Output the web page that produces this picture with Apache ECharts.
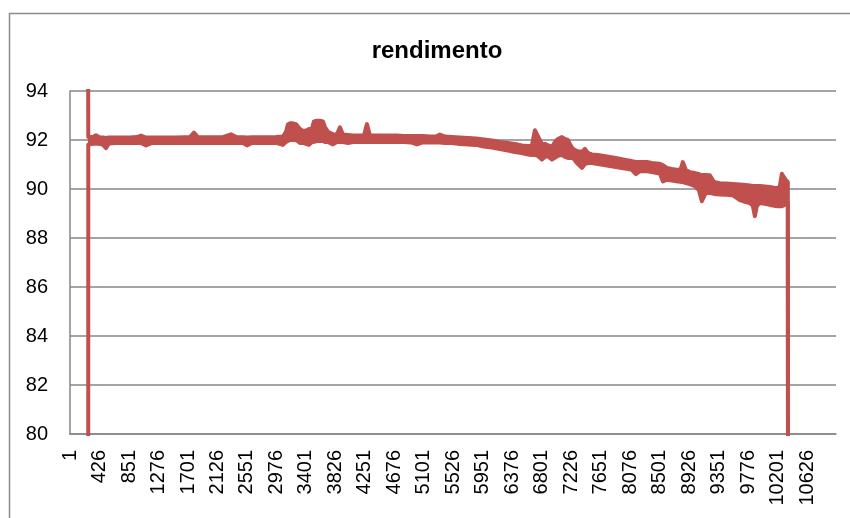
<!DOCTYPE html>
<html>
<head>
<meta charset="utf-8">
<script src="https://cdn.jsdelivr.net/npm/echarts@6/dist/echarts.min.js"></script>
<style>
  html, body { margin: 0; padding: 0; background: #fff; }
  #main { width: 850px; height: 518px; }
</style>
</head>
<body>
<div id="main"></div>
<script>
// number of rows on the category axis (labels 1, 426, 851, ...)
const rowCount = 11040;
const labelStep = 425;

// row positions where the band was read, with the lowest and highest rendimento around each
const sampleIndex = [
  260, 264, 288, 331, 375, 432, 476, 519, 562, 648, 749, 865, 965, 1023, 1095, 1182,
  1297, 1412, 1527, 1643, 1729, 1787, 1844, 1960, 2075, 2190, 2320, 2406, 2493, 2551, 2623, 2738,
  2853, 2968, 3069, 3113, 3141, 3170, 3213, 3257, 3285, 3314, 3358, 3401, 3444, 3487, 3516, 3559,
  3603, 3646, 3675, 3718, 3790, 3847, 3891, 3934, 4006, 4078, 4150, 4237, 4280, 4323, 4409, 4510,
  4611, 4712, 4813, 4914, 5000, 5087, 5188, 5274, 5332, 5404, 5505, 5620, 5735, 5850, 5966, 6081,
  6196, 6312, 6412, 6513, 6600, 6657, 6701, 6744, 6802, 6845, 6874, 6917, 6946, 6989, 7032, 7090,
  7133, 7176, 7205, 7248, 7306, 7378, 7421, 7464, 7522, 7608, 7695, 7781, 7868, 7954, 8026, 8098,
  8156, 8214, 8315, 8387, 8459, 8502, 8545, 8603, 8675, 8761, 8804, 8833, 8876, 8934, 9006, 9064,
  9107, 9165, 9222, 9280, 9367, 9453, 9554, 9655, 9741, 9799, 9842, 9871, 9900, 9943, 10015, 10087,
  10159, 10202, 10231, 10260, 10288, 10317, 10346, 10366
];
const rendimentoLow = [
  0, 91.82, 91.81, 91.85, 91.86, 91.84, 91.80, 91.67, 91.86, 91.88, 91.88, 91.88, 91.88, 91.88, 91.78, 91.88,
  91.88, 91.88, 91.88, 91.88, 91.88, 91.88, 91.88, 91.88, 91.88, 91.88, 91.88, 91.88, 91.88, 91.78, 91.88, 91.88,
  91.88, 91.88, 91.80, 91.92, 91.96, 92.00, 92.00, 92.00, 91.92, 91.88, 91.88, 91.84, 91.80, 91.92, 91.92, 91.96,
  91.96, 91.96, 91.92, 91.92, 91.82, 91.92, 91.92, 91.92, 91.88, 91.92, 91.92, 91.92, 91.92, 91.92, 91.92, 91.92,
  91.92, 91.92, 91.92, 91.90, 91.82, 91.90, 91.90, 91.90, 91.90, 91.88, 91.88, 91.84, 91.82, 91.80, 91.73, 91.69,
  91.63, 91.57, 91.51, 91.47, 91.41, 91.39, 91.39, 91.35, 91.20, 91.31, 91.35, 91.27, 91.20, 91.27, 91.35, 91.39,
  91.31, 91.27, 91.27, 91.27, 91.06, 90.86, 91.02, 91.06, 91.06, 91.02, 90.98, 90.94, 90.90, 90.86, 90.82, 90.78,
  90.61, 90.73, 90.72, 90.69, 90.65, 90.63, 90.31, 90.38, 90.35, 90.31, 90.29, 90.29, 90.24, 90.20, 90.12, 89.96,
  89.50, 89.84, 89.84, 89.80, 89.78, 89.76, 89.74, 89.55, 89.47, 89.43, 89.31, 88.89, 89.31, 89.43, 89.40, 89.35,
  89.31, 89.30, 89.30, 89.30, 89.32, 89.38, 89.45, 0
];
const rendimentoHigh = [
  97.5, 92.12, 92.12, 92.12, 92.19, 92.10, 92.10, 92.08, 92.10, 92.10, 92.10, 92.10, 92.12, 92.18, 92.10, 92.10,
  92.10, 92.10, 92.10, 92.11, 92.12, 92.30, 92.12, 92.11, 92.11, 92.11, 92.23, 92.11, 92.11, 92.10, 92.11, 92.11,
  92.11, 92.12, 92.14, 92.33, 92.63, 92.68, 92.68, 92.65, 92.57, 92.45, 92.37, 92.39, 92.45, 92.45, 92.76, 92.79,
  92.79, 92.76, 92.53, 92.33, 92.24, 92.22, 92.52, 92.22, 92.20, 92.18, 92.18, 92.18, 92.65, 92.18, 92.18, 92.18,
  92.18, 92.18, 92.16, 92.16, 92.16, 92.16, 92.14, 92.14, 92.22, 92.14, 92.12, 92.10, 92.08, 92.06, 92.02, 91.98,
  91.92, 91.88, 91.84, 91.78, 91.76, 91.76, 92.40, 92.16, 91.84, 91.84, 91.80, 91.76, 91.71, 91.92, 92.04, 92.12,
  92.04, 92.00, 91.84, 91.64, 91.55, 91.51, 91.64, 91.47, 91.41, 91.39, 91.35, 91.31, 91.27, 91.22, 91.18, 91.14,
  91.10, 91.10, 91.10, 91.06, 91.04, 91.03, 90.98, 90.86, 90.82, 90.78, 90.82, 91.10, 90.78, 90.69, 90.65, 90.61,
  90.57, 90.57, 90.56, 90.29, 90.24, 90.22, 90.20, 90.18, 90.16, 90.14, 90.12, 90.12, 90.12, 90.12, 90.10, 90.08,
  90.04, 90.04, 90.12, 90.62, 90.49, 90.37, 90.29, 0
];

const categories = [];
for (let i = 1; i <= rowCount; i++) categories.push(String(i));

const lowData = sampleIndex.map((idx, i) => [idx - 1, rendimentoLow[i]]);
// spread above the low edge, stacked on it so the band is filled between the two edges
const spreadData = sampleIndex.map((idx, i) => [idx - 1, rendimentoHigh[i] - rendimentoLow[i]]);

const lineColor = '#C0504D';

const myChart = echarts.init(document.getElementById('main'));

const option = {
  animation: false,
  backgroundColor: '#ffffff',
  title: {
    text: 'rendimento',
    left: 432,
    top: 34,
    textAlign: 'center',
    textStyle: {
      fontFamily: 'Liberation Sans',
      fontSize: 24,
      fontWeight: 'bold',
      color: '#000'
    }
  },
  graphic: [{
    type: 'rect',
    shape: { x: 9.5, y: 13.5, width: 900, height: 600 },
    style: { fill: 'none', stroke: '#8c8c8c', lineWidth: 1.5 },
    silent: true
  }],
  grid: {
    left: 70,
    top: 91,
    right: 14,
    bottom: 84,
    containLabel: false
  },
  xAxis: {
    type: 'category',
    data: categories,
    boundaryGap: true,
    axisLine: { lineStyle: { color: '#868686', width: 1.5 } },
    axisTick: { show: false },
    axisLabel: {
      interval: labelStep - 1,
      rotate: 90,
      margin: 16,
      fontFamily: 'Liberation Sans',
      fontSize: 20,
      color: '#000'
    },
    splitLine: { show: false }
  },
  yAxis: {
    type: 'value',
    min: 80,
    max: 94,
    interval: 2,
    axisLine: { show: true, lineStyle: { color: '#868686', width: 1.5 } },
    axisTick: { show: false },
    axisLabel: {
      margin: 22,
      fontFamily: 'Liberation Sans',
      fontSize: 20,
      color: '#000'
    },
    splitLine: { lineStyle: { color: '#868686', width: 1.5 } }
  },
  series: [{
    name: 'rendimento min',
    type: 'line',
    stack: 'band',
    data: lowData,
    showSymbol: false,
    clip: true,
    lineStyle: { color: lineColor, width: 4, join: 'round' },
    itemStyle: { color: lineColor }
  }, {
    name: 'rendimento max',
    type: 'line',
    stack: 'band',
    data: spreadData,
    showSymbol: false,
    clip: true,
    lineStyle: { color: lineColor, width: 4, join: 'round' },
    areaStyle: { color: lineColor, opacity: 1 },
    itemStyle: { color: lineColor }
  }]
};

myChart.setOption(option);
</script>
</body>
</html>
